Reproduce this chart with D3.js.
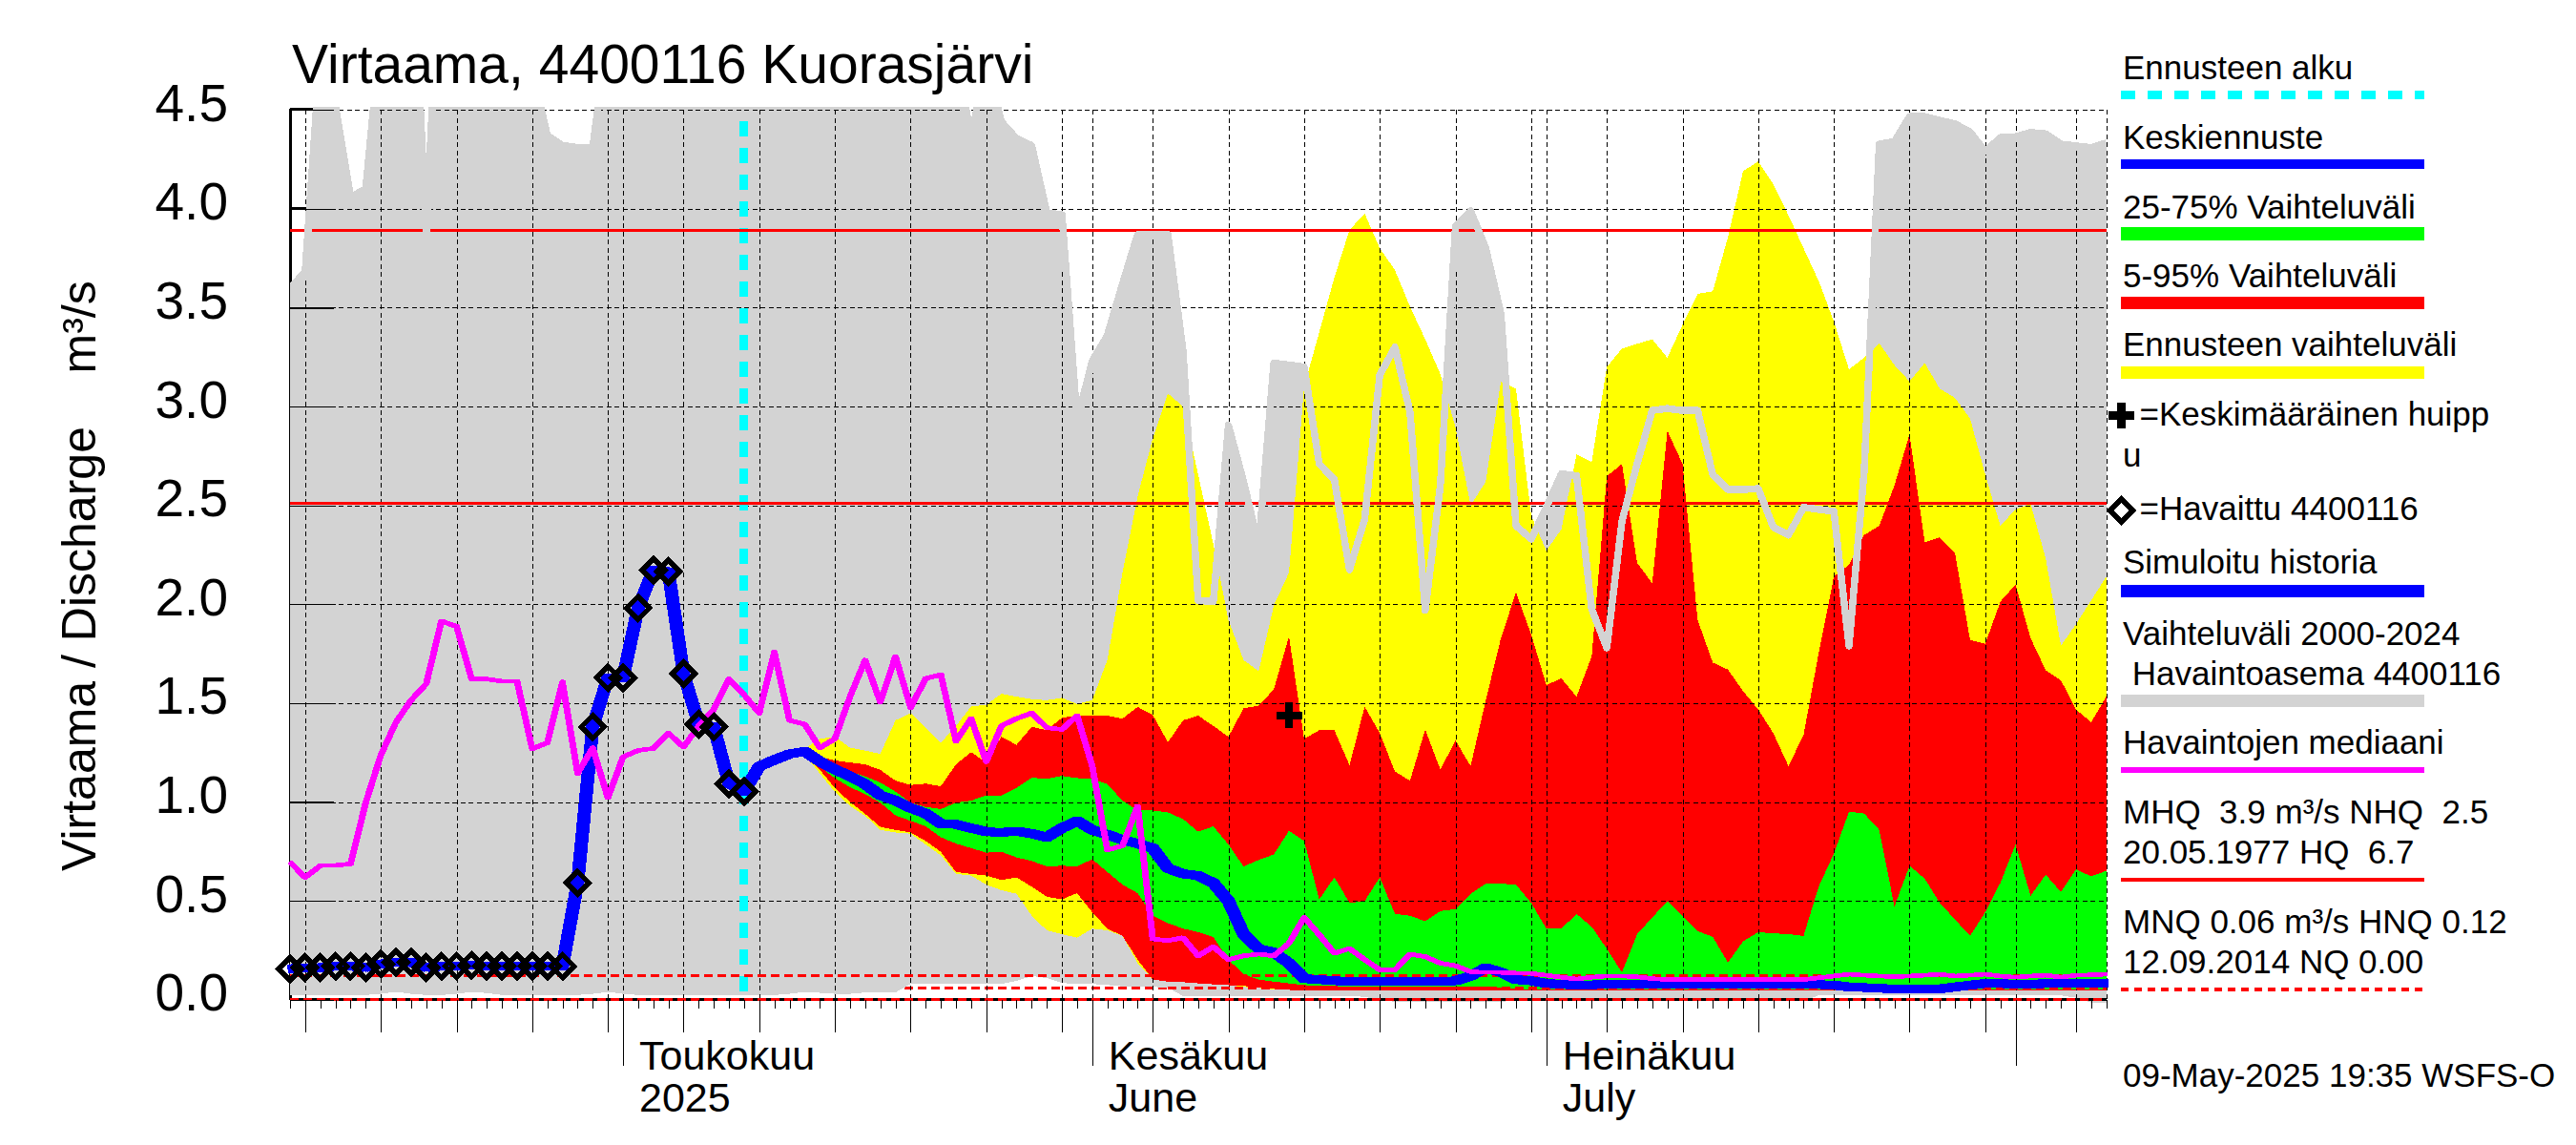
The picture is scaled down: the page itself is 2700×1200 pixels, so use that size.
<!DOCTYPE html>
<html><head><meta charset="utf-8">
<script src="https://cdn.jsdelivr.net/npm/d3@7/dist/d3.min.js"></script>
<style>
html,body{margin:0;padding:0;background:#fff}
svg{display:block}
text{font-family:"Liberation Sans",Arial,sans-serif;fill:#000;white-space:pre}
path,line{shape-rendering:crispEdges}
</style></head><body><svg id="c" width="2700" height="1200"></svg>
<script>
const titleText="Virtaama, 4400116 Kuorasjärvi";
const yTitle="Virtaama / Discharge    m³/s";
const yTicks=[0,0.5,1,1.5,2,2.5,3,3.5,4,4.5];
const monthLabels=[["Toukokuu","2025",5],["Kesäkuu","June",6],["Heinäkuu","July",7]];
const levelHigh=[3.89,2.51];
const levelLow=[0.12,0.06,0];
const peakPoint=[66,1.437];
const forecastStartIndex=30;
const observed=[.157,.163,.163,.17,.17,.163,.181,.19,.19,.163,.17,.17,.175,.17,.17,.17,.17,.17,.17,.591,1.38,1.629,1.629,1.982,2.173,2.165,1.649,1.394,1.38,1.093,1.053];
const forecastMean=[1.053,1.18,1.213,1.243,1.256,1.205,1.165,1.13,1.09,1.034,
1.007,.97,.942,.89,.887,.868,.85,.846,.853,.84,
.822,.868,.905,.859,.835,.809,.79,.767,.665,.637,
.628,.591,.499,.332,.258,.24,.185,.107,.102,.096,
.094,.093,.092,.092,.092,.092,.092,.096,.12,.162,
.139,.102,.096,.083,.078,.074,.076,.077,.077,.077,
.077,.077,.077,.077,.077,.077,.077,.077,.077,.077,
.077,.077,.074,.065,.062,.058,.055,.055,.055,.055,
.065,.074,.083,.083,.077,.077,.083,.083,.083,.083,.083];
const yellowHigh=[1.053,1.18,1.213,1.25,1.27,1.32,1.33,1.275,1.26,1.243,
1.413,1.45,1.376,1.30,1.385,1.483,1.492,1.548,1.533,1.52,
1.515,1.527,1.496,1.515,1.718,2.16,2.545,2.84,3.066,3.0,
2.656,2.305,1.92,1.718,1.662,1.995,2.16,3.10,3.376,3.653,
3.893,3.976,3.80,3.69,3.505,3.34,3.164,2.896,2.50,2.62,
3.127,3.09,2.45,2.27,2.38,2.757,2.72,3.2,3.293,3.317,
3.34,3.247,3.413,3.57,3.583,3.856,4.19,4.24,4.124,3.967,
3.80,3.635,3.43,3.188,3.247,3.32,3.21,3.127,3.22,3.09,
3.044,2.94,2.656,2.397,2.48,2.508,2.23,1.79,1.90,2.02,2.14];
const yellowLow=[1.053,1.18,1.213,1.24,1.24,1.145,1.05,.98,.93,.859,
.846,.84,.785,.73,.637,.628,.582,.554,.536,.425,
.351,.332,.314,.36,.351,.323,.185,.102,.092,.089,
.083,.078,.074,.065,.06,.052,.05,.046,.046,.046,
.046,.046,.046,.046,.046,.046,.046,.046,.046,.046,
.046,.046,.046,.046,.046,.046,.046,.046,.046,.046,
.046,.046,.046,.046,.046,.046,.046,.046,.046,.046,
.046,.046,.046,.046,.046,.046,.046,.046,.046,.046,
.046,.046,.046,.046,.046,.046,.046,.046,.046,.046,.046];
const redHigh=[1.053,1.18,1.213,1.245,1.26,1.23,1.21,1.20,1.19,1.163,
1.108,1.086,1.093,1.08,1.191,1.252,1.20,1.33,1.289,1.38,
1.363,1.426,1.437,1.437,1.437,1.422,1.481,1.44,1.302,1.413,
1.437,1.385,1.33,1.474,1.487,1.57,1.838,1.32,1.363,1.363,
1.186,1.483,1.348,1.154,1.108,1.367,1.164,1.311,1.182,1.514,
1.828,2.06,1.847,1.592,1.625,1.533,1.736,2.647,2.71,2.21,
2.106,2.877,2.71,1.921,1.705,1.67,1.561,1.468,1.348,1.182,
1.339,1.755,2.14,2.2,2.35,2.397,2.60,2.859,2.314,2.338,
2.26,1.819,1.80,2.013,2.10,1.828,1.666,1.616,1.468,1.404,1.533];
const redLow=[1.053,1.18,1.213,1.24,1.24,1.164,1.07,1.0,.94,.874,
.859,.846,.803,.748,.646,.637,.628,.606,.619,.572,
.521,.508,.539,.443,.36,.323,.203,.102,.092,.089,
.083,.078,.074,.07,.062,.055,.05,.046,.046,.046,
.046,.046,.046,.046,.046,.046,.046,.046,.046,.046,
.046,.046,.046,.046,.046,.046,.046,.046,.046,.046,
.046,.046,.046,.046,.046,.046,.046,.046,.046,.046,
.046,.046,.046,.046,.046,.046,.046,.046,.046,.046,
.046,.046,.046,.046,.046,.046,.046,.046,.046,.046,.046];
const greenHigh=[1.053,1.18,1.213,1.243,1.257,1.215,1.18,1.155,1.13,1.099,
1.053,.997,.975,.964,.997,1.007,1.034,1.034,1.071,1.123,
1.117,1.132,1.121,1.117,1.09,1.007,.957,.957,.948,.914,
.85,.877,.785,.674,.707,.735,.855,.803,.508,.619,
.49,.499,.619,.434,.425,.397,.449,.458,.536,.587,
.587,.582,.49,.36,.36,.434,.369,.258,.138,.332,
.416,.499,.425,.347,.318,.188,.295,.342,.336,.332,
.323,.573,.739,.951,.942,.859,.471,.678,.613,.49,
.406,.323,.443,.591,.785,.526,.633,.545,.659,.624,.652];
const greenLow=[1.053,1.18,1.213,1.243,1.25,1.18,1.12,1.075,1.04,.997,
.933,.905,.877,.822,.79,.767,.744,.748,.72,.702,
.674,.678,.674,.711,.646,.582,.539,.425,.388,.36,
.342,.318,.203,.129,.102,.092,.083,.074,.072,.07,
.065,.065,.065,.065,.065,.065,.065,.065,.065,.065,
.06,.055,.052,.052,.052,.052,.052,.052,.052,.052,
.052,.052,.052,.052,.052,.052,.052,.052,.052,.052,
.052,.052,.052,.052,.052,.052,.052,.052,.052,.052,
.052,.052,.052,.052,.052,.052,.052,.052,.052,.052,.052];
const median=[.696,.619,.678,.68,.687,.997,1.237,1.404,1.515,1.598,
1.915,1.888,1.622,1.622,1.611,1.611,1.269,1.30,1.607,1.145,
1.274,1.021,1.228,1.261,1.271,1.348,1.278,1.385,1.468,1.622,
1.542,1.45,1.758,1.413,1.394,1.274,1.32,1.533,1.718,1.505,
1.736,1.478,1.625,1.644,1.308,1.422,1.204,1.385,1.422,1.45,
1.376,1.367,1.437,1.182,.757,.779,.979,.308,.299,.314,
.222,.268,.203,.222,.231,.222,.286,.416,.329,.235,
.259,.203,.151,.151,.231,.218,.185,.172,.142,.138,
.138,.135,.133,.124,.114,.105,.114,.12,.12,.116,
.107,.102,.102,.102,.102,.102,.102,.102,.102,.102,
.102,.111,.12,.129,.124,.12,.116,.12,.124,.129,
.12,.124,.129,.12,.114,.12,.124,.114,.124,.126,.129];
const grayHigh=[3.60,3.68,4.8,4.52,4.06,4.1,4.9,5.2,5.5,3.875,
5.5,5.0,4.9,4.9,4.9,4.9,4.7,4.37,4.32,4.31,
4.31,4.9,4.9,4.9,4.9,4.9,4.9,4.9,4.9,4.9,
4.9,4.9,4.9,4.9,4.9,4.9,4.9,4.9,4.9,4.9,
4.9,4.9,4.9,4.9,4.8,4.355,4.75,4.44,4.355,4.32,
3.98,3.97,2.93,3.23,3.36,3.62,3.87,3.87,3.87,3.28,
2.02,2.013,2.905,2.62,2.296,3.22,3.21,3.20,2.71,2.63,
2.175,2.43,3.16,3.30,2.97,1.97,2.60,3.91,3.99,3.80,
3.47,2.397,2.33,2.49,2.66,2.65,1.976,1.78,2.42,2.71,
2.98,2.99,2.98,2.98,2.655,2.58,2.58,2.585,2.39,2.35,
2.49,2.48,2.47,1.79,2.67,4.327,4.34,4.466,4.466,4.447,
4.43,4.388,4.29,4.36,4.364,4.386,4.379,4.327,4.318,4.309,4.333];
const grayLow=[.024,.024,.024,.024,.024,.024,.03,.04,.03,.024,
.024,.03,.04,.034,.024,.024,.024,.024,.024,.024,
.03,.04,.03,.024,.024,.024,.024,.024,.024,.024,
.024,.024,.024,.03,.04,.035,.03,.03,.037,.037,
.037,.08,.08,.08,.08,.08,.08,.08,.095,.12,
.11,.085,.08,.08,.075,.068,.066,.065,.062,.018,
.018,.018,.018,.018,.018,.018,.018,.018,.018,.018,
.018,.015,.0,-.01,-.01,-.01,-.01,-.01,-.01,-.01,
-.01,-.004,-.004,-.004,-.004,-.004,-.004,-.004,-.004,-.004,
-.004,-.004,-.004,-.004,-.004,-.004,-.004,-.004,-.004,-.004,
-.004,.022,.022,.022,.022,.022,.022,.022,.022,.022,
.022,.022,.022,.022,.022,.022,.022,.022,.01,-.015,-.015];
const legendTexts=[["Ennusteen alku",83],["Keskiennuste",156],["25-75% Vaihteluväli",229],["5-95% Vaihteluväli",301],["Ennusteen vaihteluväli",373],["u",489],["Simuloitu historia",601],["Vaihteluväli 2000-2024",675.5],[" Havaintoasema 4400116",717.5],["Havaintojen mediaani",790],["MHQ  3.9 m³/s NHQ  2.5",863],["20.05.1977 HQ  6.7",905],["MNQ 0.06 m³/s HNQ 0.12",978],["12.09.2014 NQ 0.00",1020],["09-May-2025 19:35 WSFS-O",1139]];
const symbolTexts=[["=Keskimääräinen huipp",446],["=Havaittu 4400116",545]];

const svg=d3.select("#c");
const start=new Date(Date.UTC(2025,3,9)),end=new Date(Date.UTC(2025,7,7));
const x=d3.scaleUtc().domain([start,end]).range([304,2207.7]);
const y=d3.scaleLinear().domain([0,4.5]).range([1047.8,115.2]);
const dayAt=i=>d3.utcDay.offset(start,i);
const xi=i=>x(dayAt(i));
const defs=svg.append("defs");
defs.append("clipPath").attr("id","plot").append("rect").attr("x",304).attr("y",112).attr("width",1904).attr("height",940);
const days=d3.utcDay.range(start,d3.utcDay.offset(end,1));
const fives=days.filter(d=>d.getUTCDate()%5===0&&d.getUTCDate()<31);
const months=days.filter(d=>d.getUTCDate()===1);
const black="#000";

// title + axis labels
svg.append("text").attr("x",306).attr("y",87).attr("font-size",57).text(titleText);
svg.append("text").attr("transform","translate(100,913) rotate(-90)").attr("font-size",50).text(yTitle);

// thick left axis under the fill
svg.append("line").attr("x1",304).attr("x2",304).attr("y1",114).attr("y2",1048).attr("stroke",black).attr("stroke-width",3);
svg.append("line").attr("x1",304).attr("x2",336).attr("y1",y(4.5)-.5).attr("y2",y(4.5)-.5).attr("stroke",black).attr("stroke-width",3);
svg.append("line").attr("x1",304).attr("x2",336).attr("y1",y(4)).attr("y2",y(4)).attr("stroke",black).attr("stroke-width",3);

const plot=svg.append("g").attr("clip-path","url(#plot)");
const band=(hi,lo,off,color,parent)=>parent.append("path")
  .datum(hi.map((h,k)=>[k+off,h,lo[k]]))
  .attr("fill",color)
  .attr("d",d3.area().x(d=>xi(d[0])).y0(d=>y(d[2])).y1(d=>y(d[1])));
const lineGen=d3.line().x(d=>xi(d[0])).y(d=>y(d[1]));
const series=(vals,off)=>vals.map((v,k)=>[k+off,v]);
const levelLine=(v,i0,i1,parent,dash,color)=>parent.append("line")
  .attr("x1",xi(i0)).attr("x2",xi(i1)).attr("y1",y(v)).attr("y2",y(v))
  .attr("stroke",color||"#f00").attr("stroke-width",3).attr("stroke-dasharray",dash||null);
// the reference pen is wider horizontally than vertically: two strokes side by side
const widePen=(data,color,w,dx)=>[-dx,0,dx].forEach(o=>svg.append("path").datum(data)
  .attr("transform",`translate(${o},0)`).attr("fill","none").attr("stroke",color)
  .attr("stroke-width",w).attr("stroke-linejoin","round").attr("d",lineGen));

// .06 dashed line lies under the historical band at the left
levelLine(levelLow[1],0,120,plot,"8.5 5.5");
band(grayHigh,grayLow,0,"#d3d3d3",plot);
band(yellowHigh,yellowLow,forecastStartIndex,"#ffff00",plot);
band(redHigh,redLow,forecastStartIndex,"#ff0000",plot);
band(greenHigh,greenLow,forecastStartIndex,"#00ff00",plot);

// grid
const grid=svg.append("g").attr("stroke",black).attr("stroke-width",1).attr("stroke-dasharray","5 3.5");
grid.selectAll(".v").data([...fives,...months,end]).join("line")
  .attr("x1",d=>Math.round(x(d))+.5).attr("x2",d=>Math.round(x(d))+.5).attr("y1",y(4.5)).attr("y2",y(0));
grid.selectAll(".h").data(yTicks.slice(1)).join("line")
  .attr("x1",304).attr("x2",2207.7).attr("y1",d=>Math.round(y(d))+.5).attr("y2",d=>Math.round(y(d))+.5);

// forecast start
svg.append("line").attr("x1",xi(forecastStartIndex)).attr("x2",xi(forecastStartIndex))
  .attr("y1",127).attr("y2",y(0)).attr("stroke","#00ffff").attr("stroke-width",9).attr("stroke-dasharray","16 12");

// level lines
levelHigh.forEach(v=>levelLine(v,0,120,svg));
// historical upper envelope
svg.append("g").attr("clip-path","url(#plot)").append("path").datum(series(grayHigh,0))
  .attr("fill","none").attr("stroke","#d3d3d3").attr("stroke-width",7.5).attr("stroke-linejoin","round").attr("d",lineGen);
levelLine(levelLow[0],0,120,svg,"8.5 5.5");
levelLine(levelLow[1],58,120,svg,"8.5 5.5");
levelLine(levelLow[2],0,120,svg,null,black);
levelLine(levelLow[2],0,120,svg,"8.5 5.5");

// axes
const axisG=(ticks,size)=>svg.append("g").attr("transform",`translate(0,${y(0)})`)
  .call(d3.axisBottom(x).tickValues(ticks).tickSize(size).tickFormat(""))
  .call(g=>g.select(".domain").remove())
  .call(g=>g.selectAll("line").attr("stroke",black).attr("stroke-width",1));
axisG(days,9);axisG(fives,34);axisG(months,69);
const yAxis=svg.append("g").attr("transform","translate(304,0)")
  .call(d3.axisLeft(y).tickValues(yTicks).tickSize(0).tickPadding(65).tickFormat(d3.format(".1f")))
  .call(g=>g.select(".domain").remove());
yAxis.selectAll("text").attr("font-size",55).attr("dy",11).attr("font-family",'"Liberation Sans"');
yAxis.selectAll(".tick").append("line").attr("x1",0).attr("x2",46).attr("stroke",black).attr("stroke-width",1.3);

monthLabels.forEach(([a,b,m])=>{
  const d=months.find(t=>t.getUTCMonth()===m-1);
  const px=x(d)+17;
  svg.append("text").attr("x",px).attr("y",1120.5).attr("font-size",43).text(a);
  svg.append("text").attr("x",px).attr("y",1164.5).attr("font-size",43).text(b);
});

// main series
widePen([...series(observed,0),...series(forecastMean,forecastStartIndex).slice(1)],"#0000ff",9,2.5);
widePen(series(median,0),"#ff00ff",4.5,1.2);
const diamondD=r=>`M0,${-r}L${r},0L0,${r}L${-r},0Z`;
svg.selectAll(".obs").data(series(observed,0)).join("path")
  .attr("transform",d=>`translate(${xi(d[0])},${y(d[1])})`)
  .attr("d",diamondD(12)).attr("fill","none").attr("stroke",black).attr("stroke-width",5.5).attr("stroke-linejoin","miter");
const plusD=(a,t)=>`M${-t},${-a}H${t}V${-t}H${a}V${t}H${t}V${a}H${-t}V${t}H${-a}V${-t}H${-t}Z`;
svg.append("path").attr("transform",`translate(${xi(peakPoint[0])},${y(peakPoint[1])})`).attr("d",plusD(13.5,4.2)).attr("fill",black);

// legend
const legendG=svg.append("g");
legendTexts.forEach(([t,b])=>legendG.append("text").attr("x",2225).attr("y",b).attr("font-size",35).text(t));
symbolTexts.forEach(([t,b])=>legendG.append("text").attr("x",2242.5).attr("y",b).attr("font-size",35).text(t));
const swatches=[[99.5,9,"#00ffff","15 13"],[172,10,"#0000ff"],[245,14,"#00ff00"],[317.5,13,"#ff0000"],[390.5,13,"#ffff00"],[619.5,13,"#0000ff"],[734.5,13,"#d3d3d3"],[807,6,"#ff00ff"],[922,4,"#ff0000"],[1037,4,"#ff0000","8 6"]];
swatches.forEach(([cy,w,c,dash])=>legendG.append("line").attr("x1",2223).attr("x2",2541).attr("y1",cy).attr("y2",cy)
  .attr("stroke",c).attr("stroke-width",w).attr("stroke-dasharray",dash||null));
legendG.append("path").attr("transform","translate(2223.3,435.5)").attr("d",plusD(13.3,4.2)).attr("fill",black);
legendG.append("path").attr("transform","translate(2223.3,535)").attr("d",diamondD(12)).attr("fill","none").attr("stroke",black).attr("stroke-width",6);
</script></body></html>
